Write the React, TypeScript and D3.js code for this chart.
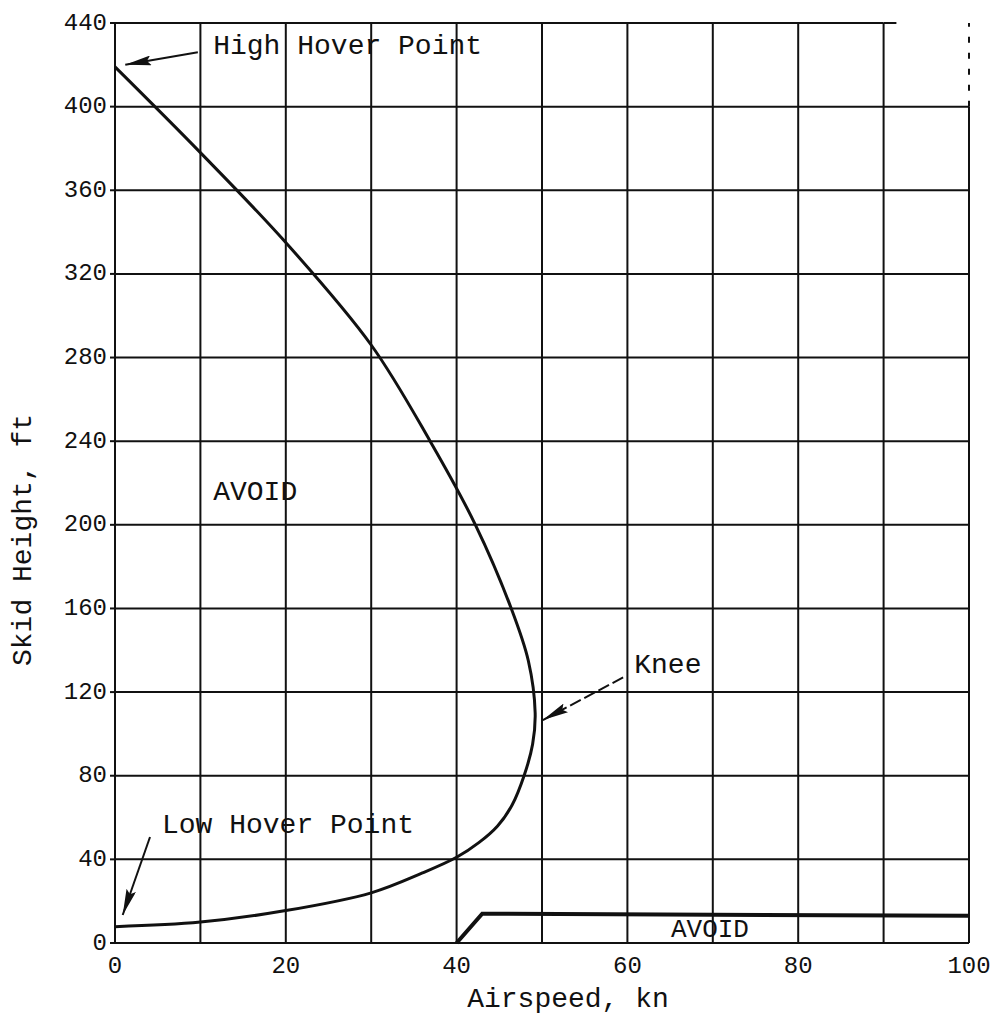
import * as d3 from 'd3'

// grid + tick values
const xGrid = [0, 10, 20, 30, 40, 50, 60, 70, 80, 90, 100]
const yGrid = [0, 40, 80, 120, 160, 200, 240, 280, 320, 360, 400, 440]
const xTickLabels = [0, 20, 40, 60, 80, 100]
const yTickLabels = [0, 40, 80, 120, 160, 200, 240, 280, 320, 360, 400, 440]

// height-velocity curve, high hover -> knee -> low hover
const hvSpeed = [0, 10, 20, 30, 36.9, 42.2, 46.4, 48.4, 49.2, 48.9, 47.9, 46.5, 44.8, 42.6, 40, 36, 30, 20, 10, 0]
const hvHeight = [419, 378, 335, 286, 240, 200, 160, 135, 110, 95, 80, 66, 56, 48, 41, 33.5, 24, 15.5, 10, 7.8]

// low-altitude avoid boundary
const lowSpeed = [40, 43, 100]
const lowHeight = [0, 14, 13]

const W = 999
const H = 1019
const FONT = '"Liberation Mono", "Courier New", monospace'

export default function App() {
  const x = d3.scaleLinear().domain([0, 100]).range([115, 969])
  const y = d3.scaleLinear().domain([0, 440]).range([943, 23])

  const hvPts: [number, number][] = hvSpeed.map((s, i) => [s, hvHeight[i]])
  const lowPts: [number, number][] = lowSpeed.map((s, i) => [s, lowHeight[i]])
  const hvPath = d3.line<[number, number]>()
    .x(d => x(d[0]))
    .y(d => y(d[1]))
    .curve(d3.curveCatmullRom.alpha(0.5))(hvPts) || ''
  const lowPath = d3.line<[number, number]>().x(d => x(d[0])).y(d => y(d[1]))(lowPts) || ''

  return (
    <div style={{ position: 'absolute', left: 0, top: 0 }}>
      <svg width={W} height={H} style={{ display: 'block', background: '#fff' }}>
        <defs>
          <marker id="head" viewBox="0 0 26 10" refX="26" refY="5"
            markerWidth="26" markerHeight="10" markerUnits="userSpaceOnUse" orient="auto">
            <path d="M0,0 L26,5 L0,10 L4,5 Z" fill="#111" />
          </marker>
        </defs>

        {/* grid */}
        <g stroke="#111" strokeWidth={2}>
          {xGrid.map(v => (
            <line key={'gx' + v} x1={x(v)} x2={x(v)} y1={y(0)}
              y2={v === 100 ? y(400) : y(440)} />
          ))}
          {yGrid.map(v => (
            <line key={'gy' + v} x1={x(0)} x2={v === 440 ? x(90) : x(100)} y1={y(v)} y2={y(v)} />
          ))}
          {/* scanned-out corner, drawn dashed */}
          <line x1={x(100)} x2={x(100)} y1={y(400)} y2={y(440)} strokeDasharray="6,10" />
          <line x1={x(90)} x2={x(91.5)} y1={y(440)} y2={y(440)} />
        </g>

        {/* y ticks */}
        <g stroke="#111" strokeWidth={2}>
          {yTickLabels.map(v => (
            <line key={'ty' + v} x1={x(0) - 5} x2={x(0)} y1={y(v)} y2={y(v)} />
          ))}
        </g>

        {/* curves */}
        <path d={hvPath} fill="none" stroke="#111" strokeWidth={3} />
        <path d={lowPath} fill="none" stroke="#111" strokeWidth={4} />

        {/* tick labels */}
        <g fontFamily={FONT} fontSize={24} fill="#111">
          {yTickLabels.map(v => (
            <text key={'ly' + v} x={x(0) - 8} y={y(v)} textAnchor="end" dominantBaseline="central">{v}</text>
          ))}
          {xTickLabels.map(v => (
            <text key={'lx' + v} x={x(v)} y={973} textAnchor="middle">{v}</text>
          ))}
        </g>

        {/* axis titles */}
        <g fontFamily={FONT} fontSize={28} fill="#111">
          <text x={568} y={1007} textAnchor="middle">Airspeed, kn</text>
          <text transform="translate(31,540) rotate(-90)" textAnchor="middle">Skid Height, ft</text>
        </g>

        {/* annotations */}
        <g stroke="#111" strokeWidth={2} fill="none">
          <line x1={x(9.7)} y1={y(426)} x2={x(1.2)} y2={y(420)} markerEnd="url(#head)" />
          <line x1={x(4.1)} y1={y(50.7)} x2={x(0.9)} y2={y(13.4)} markerEnd="url(#head)" />
          <line x1={x(59.5)} y1={y(127)} x2={x(50.1)} y2={y(106.6)} strokeDasharray="12,4" markerEnd="url(#head)" />
        </g>
        <g fontFamily={FONT} fontSize={28} fill="#111">
          <text x={x(11.5)} y={y(425)}>High Hover Point</text>
          <text x={x(5.5)} y={y(52.6)}>Low Hover Point</text>
          <text x={x(60.8)} y={y(129)}>Knee</text>
          <text x={x(11.5)} y={y(212)}>AVOID</text>
          <text x={x(65.1)} y={y(2.9)} fontSize={26}>AVOID</text>
        </g>
      </svg>
    </div>
  )
}
